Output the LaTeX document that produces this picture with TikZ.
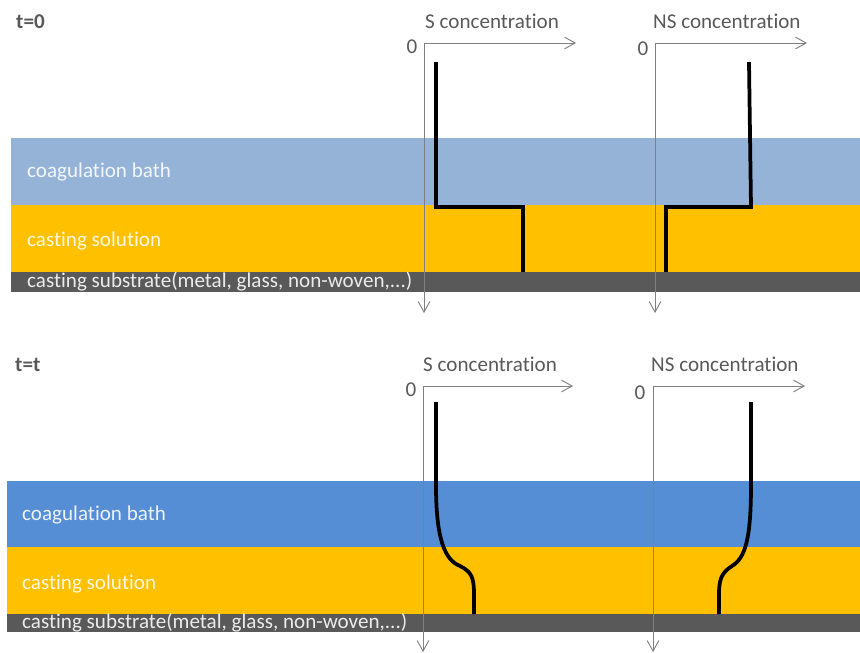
\documentclass[tikz,border=0pt]{standalone}
\usepackage{fontspec}
\setmainfont{Carlito}[Ligatures=NoCommon]
\usetikzlibrary{arrows.meta}
\definecolor{bathlight}{HTML}{95B3D7}
\definecolor{bathdark}{HTML}{558ED5}
\definecolor{solution}{HTML}{FFC000}
\definecolor{substrate}{HTML}{595959}
\definecolor{labelgray}{HTML}{595959}
\definecolor{axisgray}{HTML}{808080}

\begin{document}
\begin{tikzpicture}[x=0.03cm,y=-0.03cm,
        font=\fontsize{18}{20}\selectfont,
        >={Straight Barb[length=9pt,width=10pt]},
        axis/.style={draw=axisgray,line width=0.8pt,<->},
        prof/.style={draw=black,line width=3.2pt},
        lbl/.style={anchor=base west,inner sep=0pt,text=labelgray},
        layer/.style={anchor=base west,inner sep=0pt,text=white,text opacity=0.88},
        zero/.style={anchor=base,inner sep=0pt,text=labelgray}]
    \useasboundingbox (0,0) rectangle (860,653);

    % t=0
    \fill[bathlight] (11,138) rectangle (860,205);
    \fill[solution] (11,205) rectangle (860,272);
    \fill[substrate] (11,272) rectangle (860,292);

    \node[lbl,font=\fontsize{18}{20}\selectfont\bfseries] (t0) at (16,29) {t=0};
    \node[layer] (bath0) at (27,178) {coagulation bath};
    \node[layer] (sol0) at (27,247) {casting solution};
    \node[layer] (sub0) at (27,288) {casting substrate(metal, glass, non-woven,...)};

    \coordinate (so0) at (424,43);
    \coordinate (sx0) at (576,43);
    \coordinate (sy0) at (424,313);
    \coordinate (nso0) at (655,43);
    \coordinate (nsx0) at (807,43);
    \coordinate (nsy0) at (655,313);
    \node[lbl] (sc0) at (425,29) {S concentration};
    \node[lbl] (nsc0) at (653,29) {NS concentration};
    \node[zero] (sz0) at (412,54) {0};
    \node[zero] (nsz0) at (643,56) {0};

    \draw[axis] (sx0) -- (so0) -- (sy0);
    \draw[axis] (nsx0) -- (nso0) -- (nsy0);

    \draw[prof] (436,62) -- (436,207) -- (523,207) -- (523,272);
    \draw[prof] (749,62) -- (751,207) -- (666,207) -- (666,272);

    % t=t
    \fill[bathdark] (7,481) rectangle (860,547);
    \fill[solution] (7,547) rectangle (860,614);
    \fill[substrate] (7,614) rectangle (860,632);

    \node[lbl,font=\fontsize{18}{20}\selectfont\bfseries] (tt) at (15,372) {t=t};
    \node[layer] (batht) at (22,520) {coagulation bath};
    \node[layer] (solt) at (22,589) {casting solution};
    \node[layer] (subt) at (22,628) {casting substrate(metal, glass, non-woven,...)};

    \coordinate (sot) at (423,386);
    \coordinate (sxt) at (573,386);
    \coordinate (syt) at (423,652);
    \coordinate (nsot) at (653,386);
    \coordinate (nsxt) at (805,386);
    \coordinate (nsyt) at (653,652);
    \node[lbl] (sct) at (423,372) {S concentration};
    \node[lbl] (nsct) at (651,372) {NS concentration};
    \node[zero] (szt) at (411,396) {0};
    \node[zero] (nszt) at (640,399) {0};

    \draw[axis] (sxt) -- (sot) -- (syt);
    \draw[axis] (nsxt) -- (nsot) -- (nsyt);

    \draw[prof] (436,402) -- (436,485) .. controls (436,540) and (445,560) .. (460,566)
        .. controls (472,572) and (474,578) .. (474,595) -- (474,614);
    \draw[prof] (751,402) -- (751,485) .. controls (751,540) and (745,558) .. (732,566)
        .. controls (721,573) and (719,580) .. (719,595) -- (719,614);
\end{tikzpicture}
\end{document}
